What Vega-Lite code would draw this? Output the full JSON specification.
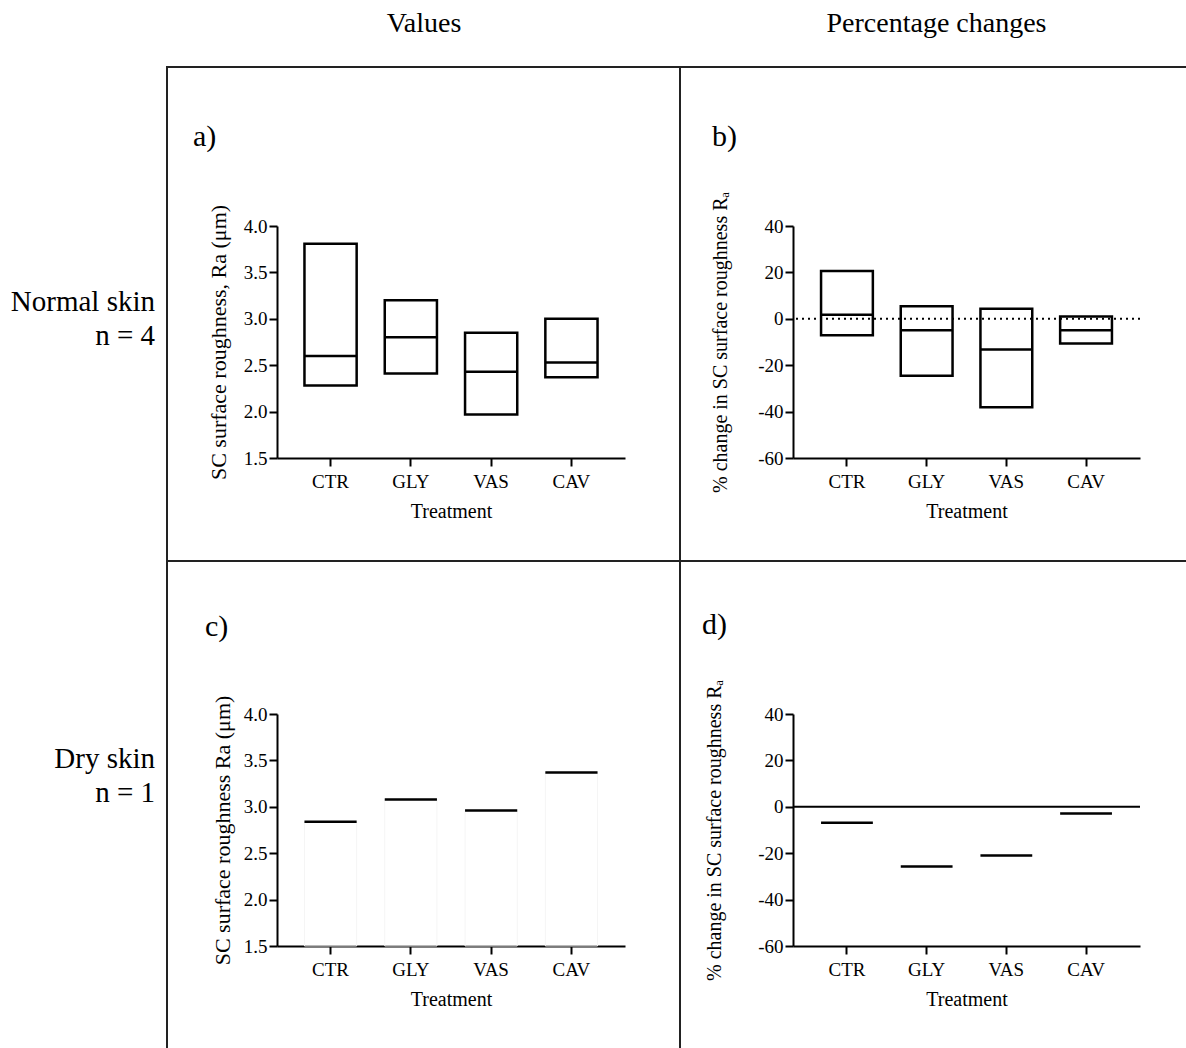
{
"$schema": "https://vega.github.io/schema/vega-lite/v6.json",
"padding": 0,
"background": "white",
"datasets": {
 "normal": [
  {"treatment": "CTR", "ra_min": 2.28, "ra_median": 2.60, "ra_max": 3.81, "pct_min": -7.1, "pct_median": 1.7, "pct_max": 20.6},
  {"treatment": "GLY", "ra_min": 2.41, "ra_median": 2.80, "ra_max": 3.20, "pct_min": -24.5, "pct_median": -4.9, "pct_max": 5.4},
  {"treatment": "VAS", "ra_min": 1.97, "ra_median": 2.43, "ra_max": 2.85, "pct_min": -38.1, "pct_median": -13.2, "pct_max": 4.3},
  {"treatment": "CAV", "ra_min": 2.37, "ra_median": 2.53, "ra_max": 3.00, "pct_min": -10.7, "pct_median": -4.9, "pct_max": 1.0}
 ],
 "dry": [
  {"treatment": "CTR", "ra": 2.84, "pct": -6.9},
  {"treatment": "GLY", "ra": 3.08, "pct": -25.7},
  {"treatment": "VAS", "ra": 2.96, "pct": -21.0},
  {"treatment": "CAV", "ra": 3.37, "pct": -2.9}
 ],
 "none": []
},
"columns": 9,
"spacing": 0,
"bounds": "flush",
"align": "each",
"concat": [
 {"width": 166, "height": 66, "data": {"name": "none"}, "mark": "point"},
 {"width": 1, "height": 1, "data": {"name": "none"}, "mark": "point"},
 {"width": 1, "height": 1, "data": {"name": "none"}, "mark": "point"},
 {"width": 1, "height": 1, "data": {"name": "none"}, "mark": "point"},
 {"width": 1, "height": 1, "data": {"name": "none"}, "mark": "point"},
 {"width": 1, "height": 1, "data": {"name": "none"}, "mark": "point"},
 {"width": 1, "height": 1, "data": {"name": "none"}, "mark": "point"},
 {"width": 1, "height": 1, "data": {"name": "none"}, "mark": "point"},
 {"width": 1, "height": 1, "data": {"name": "none"}, "mark": "point"},

 {"width": 1, "height": 1, "data": {"name": "none"}, "mark": "point"},
 {"width": 2, "height": 2, "data": {"name": "none"}, "mark": "point", "view": {"fill": "#222", "stroke": null}},
 {"width": 109, "height": 2, "data": {"name": "none"}, "mark": "point", "view": {"fill": "#222", "stroke": null}},
 {"width": 348, "height": 2, "data": {"name": "none"}, "mark": "point", "view": {"fill": "#222", "stroke": null},
  "title": {"text": "Values", "font": "Liberation Serif", "fontSize": 28, "fontWeight": "normal", "offset": 28, "dx": -27, "frame": "group"}},
 {"width": 54, "height": 2, "data": {"name": "none"}, "mark": "point", "view": {"fill": "#222", "stroke": null}},
 {"width": 2, "height": 2, "data": {"name": "none"}, "mark": "point", "view": {"fill": "#222", "stroke": null}},
 {"width": 112, "height": 2, "data": {"name": "none"}, "mark": "point", "view": {"fill": "#222", "stroke": null}},
 {"width": 347, "height": 2, "data": {"name": "none"}, "mark": "point", "view": {"fill": "#222", "stroke": null},
  "title": {"text": "Percentage changes", "font": "Liberation Serif", "fontSize": 28, "fontWeight": "normal", "offset": 28, "dx": -30, "frame": "group"}},
 {"width": 46, "height": 2, "data": {"name": "none"}, "mark": "point", "view": {"fill": "#222", "stroke": null}},

 {"width": 1, "height": 1, "data": {"name": "none"}, "mark": "point"},
 {"width": 2, "height": 158, "data": {"name": "none"}, "mark": "point", "view": {"fill": "#222", "stroke": null}},
 {"width": 1, "height": 1, "data": {"name": "none"}, "mark": "point"},
 {"width": 1, "height": 1, "data": {"name": "none"}, "mark": "point"},
 {"width": 1, "height": 1, "data": {"name": "none"}, "mark": "point"},
 {"width": 2, "height": 158, "data": {"name": "none"}, "mark": "point", "view": {"fill": "#222", "stroke": null}},
 {"width": 1, "height": 1, "data": {"name": "none"}, "mark": "point"},
 {"width": 1, "height": 1, "data": {"name": "none"}, "mark": "point"},
 {"width": 1, "height": 1, "data": {"name": "none"}, "mark": "point"},

 {"width": 166, "height": 62, "data": {"name": "none"}, "mark": "point",
  "title": {"text": ["Normal skin", "n = 4"], "orient": "bottom", "anchor": "end", "frame": "group", "font": "Liberation Serif", "fontWeight": "normal", "fontSize": 29, "lineHeight": 34, "offset": 0, "dx": -11}},
 {"width": 2, "height": 232, "data": {"name": "none"}, "mark": "point", "view": {"fill": "#222", "stroke": null}},
 {"width": 1, "height": 1, "data": {"name": "none"}, "mark": "point"},
 {"width": 348, "height": 232,
  "data": {"name": "normal"},
  "title": {"text": "a)", "anchor": "start", "frame": "group", "font": "Liberation Serif", "fontWeight": "normal", "fontSize": 30, "dx": -84, "offset": 50},
  "layer": [
   {"mark": {"type": "bar", "filled": false, "color": "#000", "strokeWidth": 2.5},
    "encoding": {
     "x": {"field": "treatment", "type": "nominal", "sort": ["CTR", "GLY", "VAS", "CAV"], "scale": {"paddingInner": 0.35, "paddingOuter": 0.342},
           "axis": {"title": "Treatment", "labelPadding": 6, "titlePadding": 10}},
     "y": {"field": "ra_min", "type": "quantitative", "scale": {"domain": [1.5, 4.0], "nice": false, "zero": false},
           "axis": {"title": "SC surface roughness,  Ra (μm)", "titleFontSize": 22, "values": [1.5, 2, 2.5, 3, 3.5, 4], "format": ".1f", "titlePadding": 13}},
     "y2": {"field": "ra_max"}
    }},
   {"mark": {"type": "bar", "filled": false, "color": "#000", "strokeWidth": 2.5},
    "encoding": {
     "x": {"field": "treatment", "type": "nominal", "sort": ["CTR", "GLY", "VAS", "CAV"]},
     "y": {"field": "ra_median", "type": "quantitative"},
     "y2": {"field": "ra_median"}
    }}
  ]},
 {"width": 1, "height": 1, "data": {"name": "none"}, "mark": "point"},
 {"width": 2, "height": 232, "data": {"name": "none"}, "mark": "point", "view": {"fill": "#222", "stroke": null}},
 {"width": 1, "height": 1, "data": {"name": "none"}, "mark": "point"},
 {"width": 347, "height": 232,
  "data": {"name": "normal"},
  "title": {"text": "b)", "anchor": "start", "frame": "group", "font": "Liberation Serif", "fontWeight": "normal", "fontSize": 30, "dx": -81, "offset": 40},
  "layer": [
   {"data": {"values": [{"ref": 0}]},
    "mark": {"type": "rule", "strokeDash": [2, 4], "strokeWidth": 2, "color": "#000"},
    "encoding": {"y": {"field": "ref", "type": "quantitative"}}},
   {"mark": {"type": "bar", "filled": false, "color": "#000", "strokeWidth": 2.5},
    "encoding": {
     "x": {"field": "treatment", "type": "nominal", "sort": ["CTR", "GLY", "VAS", "CAV"], "scale": {"paddingInner": 0.35, "paddingOuter": 0.352},
           "axis": {"title": "Treatment", "labelPadding": 6, "titlePadding": 10}},
     "y": {"field": "pct_min", "type": "quantitative", "scale": {"domain": [-60, 40], "nice": false, "zero": false},
           "axis": {"title": "% change in SC surface roughness Rₐ", "values": [-60, -40, -20, 0, 20, 40], "labelExpr": "datum.value + ''", "titlePadding": 27}},
     "y2": {"field": "pct_max"}
    }},
   {"mark": {"type": "bar", "filled": false, "color": "#000", "strokeWidth": 2.5},
    "encoding": {
     "x": {"field": "treatment", "type": "nominal", "sort": ["CTR", "GLY", "VAS", "CAV"]},
     "y": {"field": "pct_median", "type": "quantitative"},
     "y2": {"field": "pct_median"}
    }}
  ]},
 {"width": 1, "height": 1, "data": {"name": "none"}, "mark": "point"},

 {"width": 1, "height": 1, "data": {"name": "none"}, "mark": "point"},
 {"width": 2, "height": 102, "data": {"name": "none"}, "mark": "point", "view": {"fill": "#222", "stroke": null}},
 {"width": 1, "height": 1, "data": {"name": "none"}, "mark": "point"},
 {"width": 1, "height": 1, "data": {"name": "none"}, "mark": "point"},
 {"width": 1, "height": 1, "data": {"name": "none"}, "mark": "point"},
 {"width": 2, "height": 102, "data": {"name": "none"}, "mark": "point", "view": {"fill": "#222", "stroke": null}},
 {"width": 1, "height": 1, "data": {"name": "none"}, "mark": "point"},
 {"width": 1, "height": 1, "data": {"name": "none"}, "mark": "point"},
 {"width": 1, "height": 1, "data": {"name": "none"}, "mark": "point"},

 {"width": 1, "height": 1, "data": {"name": "none"}, "mark": "point"},
 {"width": 2, "height": 2, "data": {"name": "none"}, "mark": "point", "view": {"fill": "#222", "stroke": null}},
 {"width": 109, "height": 2, "data": {"name": "none"}, "mark": "point", "view": {"fill": "#222", "stroke": null}},
 {"width": 348, "height": 2, "data": {"name": "none"}, "mark": "point", "view": {"fill": "#222", "stroke": null}},
 {"width": 54, "height": 2, "data": {"name": "none"}, "mark": "point", "view": {"fill": "#222", "stroke": null}},
 {"width": 2, "height": 2, "data": {"name": "none"}, "mark": "point", "view": {"fill": "#222", "stroke": null}},
 {"width": 112, "height": 2, "data": {"name": "none"}, "mark": "point", "view": {"fill": "#222", "stroke": null}},
 {"width": 347, "height": 2, "data": {"name": "none"}, "mark": "point", "view": {"fill": "#222", "stroke": null}},
 {"width": 46, "height": 2, "data": {"name": "none"}, "mark": "point", "view": {"fill": "#222", "stroke": null}},

 {"width": 1, "height": 1, "data": {"name": "none"}, "mark": "point"},
 {"width": 2, "height": 152, "data": {"name": "none"}, "mark": "point", "view": {"fill": "#222", "stroke": null}},
 {"width": 1, "height": 1, "data": {"name": "none"}, "mark": "point"},
 {"width": 1, "height": 1, "data": {"name": "none"}, "mark": "point"},
 {"width": 1, "height": 1, "data": {"name": "none"}, "mark": "point"},
 {"width": 2, "height": 152, "data": {"name": "none"}, "mark": "point", "view": {"fill": "#222", "stroke": null}},
 {"width": 1, "height": 1, "data": {"name": "none"}, "mark": "point"},
 {"width": 1, "height": 1, "data": {"name": "none"}, "mark": "point"},
 {"width": 1, "height": 1, "data": {"name": "none"}, "mark": "point"},

 {"width": 166, "height": 31, "data": {"name": "none"}, "mark": "point",
  "title": {"text": ["Dry skin", "n = 1"], "orient": "bottom", "anchor": "end", "frame": "group", "font": "Liberation Serif", "fontWeight": "normal", "fontSize": 29, "lineHeight": 34, "offset": 0, "dx": -11}},
 {"width": 2, "height": 232, "data": {"name": "none"}, "mark": "point", "view": {"fill": "#222", "stroke": null}},
 {"width": 1, "height": 1, "data": {"name": "none"}, "mark": "point"},
 {"width": 348, "height": 232,
  "data": {"name": "dry"},
  "title": {"text": "c)", "anchor": "start", "frame": "group", "font": "Liberation Serif", "fontWeight": "normal", "fontSize": 30, "dx": -72, "offset": 53},
  "layer": [
   {"mark": {"type": "bar", "filled": false, "color": "#f5f5f5", "strokeWidth": 1},
    "encoding": {
     "x": {"field": "treatment", "type": "nominal", "sort": ["CTR", "GLY", "VAS", "CAV"], "scale": {"paddingInner": 0.35, "paddingOuter": 0.342},
           "axis": {"title": "Treatment", "labelPadding": 6, "titlePadding": 10}},
     "y": {"field": "ra", "type": "quantitative", "scale": {"domain": [1.5, 4.0], "nice": false, "zero": false},
           "axis": {"title": "SC surface roughness Ra (μm)", "titleFontSize": 22, "values": [1.5, 2, 2.5, 3, 3.5, 4], "format": ".1f", "titlePadding": 9}},
     "y2": {"datum": 1.5}
    }},
   {"mark": {"type": "bar", "filled": false, "color": "#000", "strokeWidth": 2.5},
    "encoding": {
     "x": {"field": "treatment", "type": "nominal", "sort": ["CTR", "GLY", "VAS", "CAV"]},
     "y": {"field": "ra", "type": "quantitative"},
     "y2": {"field": "ra"}
    }}
  ]},
 {"width": 1, "height": 1, "data": {"name": "none"}, "mark": "point"},
 {"width": 2, "height": 232, "data": {"name": "none"}, "mark": "point", "view": {"fill": "#222", "stroke": null}},
 {"width": 1, "height": 1, "data": {"name": "none"}, "mark": "point"},
 {"width": 347, "height": 232,
  "data": {"name": "dry"},
  "title": {"text": "d)", "anchor": "start", "frame": "group", "font": "Liberation Serif", "fontWeight": "normal", "fontSize": 30, "dx": -91, "offset": 37},
  "layer": [
   {"data": {"values": [{"ref": 0}]},
    "mark": {"type": "rule", "strokeWidth": 2, "color": "#000"},
    "encoding": {"y": {"field": "ref", "type": "quantitative"}}},
   {"mark": {"type": "bar", "filled": false, "color": "#000", "strokeWidth": 2.5},
    "encoding": {
     "x": {"field": "treatment", "type": "nominal", "sort": ["CTR", "GLY", "VAS", "CAV"], "scale": {"paddingInner": 0.35, "paddingOuter": 0.352},
           "axis": {"title": "Treatment", "labelPadding": 6, "titlePadding": 10}},
     "y": {"field": "pct", "type": "quantitative", "scale": {"domain": [-60, 40], "nice": false, "zero": false},
           "axis": {"title": "%  change in SC surface roughness Rₐ", "values": [-60, -40, -20, 0, 20, 40], "labelExpr": "datum.value + ''", "titlePadding": 33}},
     "y2": {"field": "pct"}
    }}
  ]},
 {"width": 1, "height": 1, "data": {"name": "none"}, "mark": "point"},

 {"width": 1, "height": 1, "data": {"name": "none"}, "mark": "point"},
 {"width": 2, "height": 102, "data": {"name": "none"}, "mark": "point", "view": {"fill": "#222", "stroke": null}},
 {"width": 1, "height": 1, "data": {"name": "none"}, "mark": "point"},
 {"width": 1, "height": 1, "data": {"name": "none"}, "mark": "point"},
 {"width": 1, "height": 1, "data": {"name": "none"}, "mark": "point"},
 {"width": 2, "height": 102, "data": {"name": "none"}, "mark": "point", "view": {"fill": "#222", "stroke": null}},
 {"width": 1, "height": 1, "data": {"name": "none"}, "mark": "point"},
 {"width": 1, "height": 1, "data": {"name": "none"}, "mark": "point"},
 {"width": 1, "height": 1, "data": {"name": "none"}, "mark": "point"}
],
"config": {
 "view": {"stroke": null},
 "font": "Liberation Serif",
 "axis": {"domainColor": "#000", "domainWidth": 2, "tickColor": "#000", "tickWidth": 2, "tickSize": 8, "labelFont": "Liberation Serif", "labelFontSize": 19, "labelColor": "#000", "titleFont": "Liberation Serif", "titleFontSize": 20, "titleFontWeight": "normal", "titleColor": "#000", "grid": false},
 "axisX": {"labelAngle": 0},
 "title": {"font": "Liberation Serif", "fontWeight": "normal", "color": "#000"}
}
}
